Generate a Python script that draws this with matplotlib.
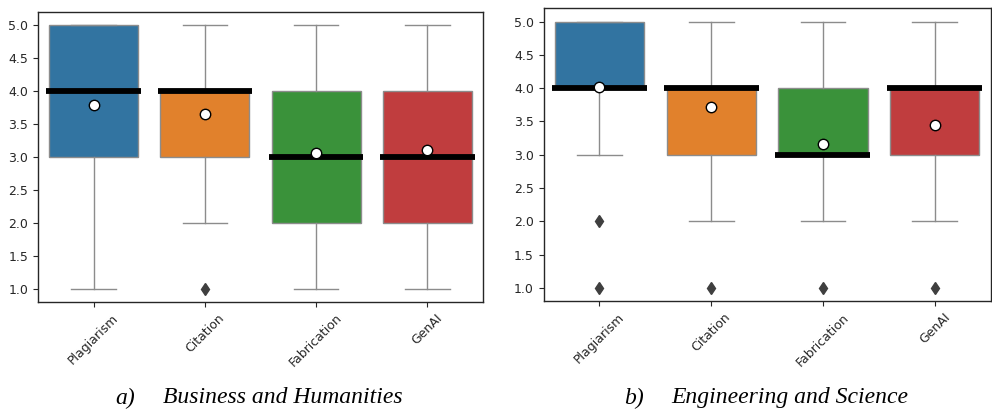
import matplotlib
matplotlib.use("Agg")
import matplotlib.pyplot as plt

categories = ["Plagiarism", "Citation", "Fabrication", "GenAI"]
colors = ["#3274a1", "#e1812c", "#3a923a", "#c03d3e"]

# a) Business and Humanities
bh_q1 = [3, 3, 2, 2]
bh_med = [4, 4, 3, 3]
bh_q3 = [5, 4, 4, 4]
bh_lo = [1, 2, 1, 1]
bh_hi = [5, 5, 5, 5]
bh_fliers = [[], [1], [], []]
bh_mean = [3.79, 3.65, 3.06, 3.10]

# b) Engineering and Science
es_q1 = [4, 3, 3, 3]
es_med = [4, 4, 3, 4]
es_q3 = [5, 4, 4, 4]
es_lo = [3, 2, 2, 2]
es_hi = [5, 5, 5, 5]
es_fliers = [[2, 1], [1], [1], [1]]
es_mean = [4.01, 3.71, 3.16, 3.44]


def draw(ax, q1, med, q3, lo, hi, fliers, mean):
    stats = []
    for i in range(len(categories)):
        stats.append(dict(q1=q1[i], med=med[i], q3=q3[i], whislo=lo[i],
                          whishi=hi[i], fliers=fliers[i], mean=mean[i],
                          label=categories[i]))
    gray = "#8c8c8c"
    res = ax.bxp(stats, positions=range(len(categories)), widths=0.8,
                 patch_artist=True, showmeans=True,
                 boxprops=dict(edgecolor=gray, linewidth=1),
                 whiskerprops=dict(color=gray, linewidth=1),
                 capprops=dict(color=gray, linewidth=1),
                 medianprops=dict(color="black", linewidth=4.2, zorder=4),
                 meanprops=dict(marker="o", markerfacecolor="white",
                                markeredgecolor="black", markersize=7.5,
                                markeredgewidth=1, zorder=5),
                 flierprops=dict(marker="d", markerfacecolor="#3f3f3f",
                                 markeredgecolor="#3f3f3f", markersize=6.5))
    for patch, c in zip(res["boxes"], colors):
        patch.set_facecolor(c)
    for cap in res["caps"]:
        x = cap.get_xdata()
        m = (x[0] + x[1]) / 2
        cap.set_xdata([m - 0.2, m + 0.2])
    for line in res["medians"]:
        x = line.get_xdata()
        m = (x[0] + x[1]) / 2
        line.set_xdata([m - 0.425, m + 0.425])
    ax.set_xlim(-0.5, len(categories) - 0.5)
    ax.set_ylim(0.8, 5.2)
    ax.set_yticks([1.0, 1.5, 2.0, 2.5, 3.0, 3.5, 4.0, 4.5, 5.0])
    ax.set_yticklabels([f"{v:.1f}" for v in ax.get_yticks()])
    ax.tick_params(axis="both", labelsize=9, colors="#262626", length=3.5)
    plt.setp(ax.get_xticklabels(), rotation=45)
    for s in ax.spines.values():
        s.set_color("#262626")
        s.set_linewidth(1)


fig = plt.figure(figsize=(9.92, 4.12), dpi=100)
ax1 = fig.add_axes([0.0383, 0.267, 0.4486, 0.704])
ax2 = fig.add_axes([0.548, 0.269, 0.4505, 0.711])

draw(ax1, bh_q1, bh_med, bh_q3, bh_lo, bh_hi, bh_fliers, bh_mean)
draw(ax2, es_q1, es_med, es_q3, es_lo, es_hi, es_fliers, es_mean)

cap_font = dict(family="Liberation Serif", style="italic", size=17, va="center")
fig.text(115 / 992, 0.034, "a)", ha="left", **cap_font)
fig.text(163 / 992, 0.034, "Business and Humanities", ha="left", **cap_font)
fig.text(624 / 992, 0.034, "b)", ha="left", **cap_font)
fig.text(671 / 992, 0.034, "Engineering and Science", ha="left", **cap_font)

fig.savefig("out.png", dpi=100)
